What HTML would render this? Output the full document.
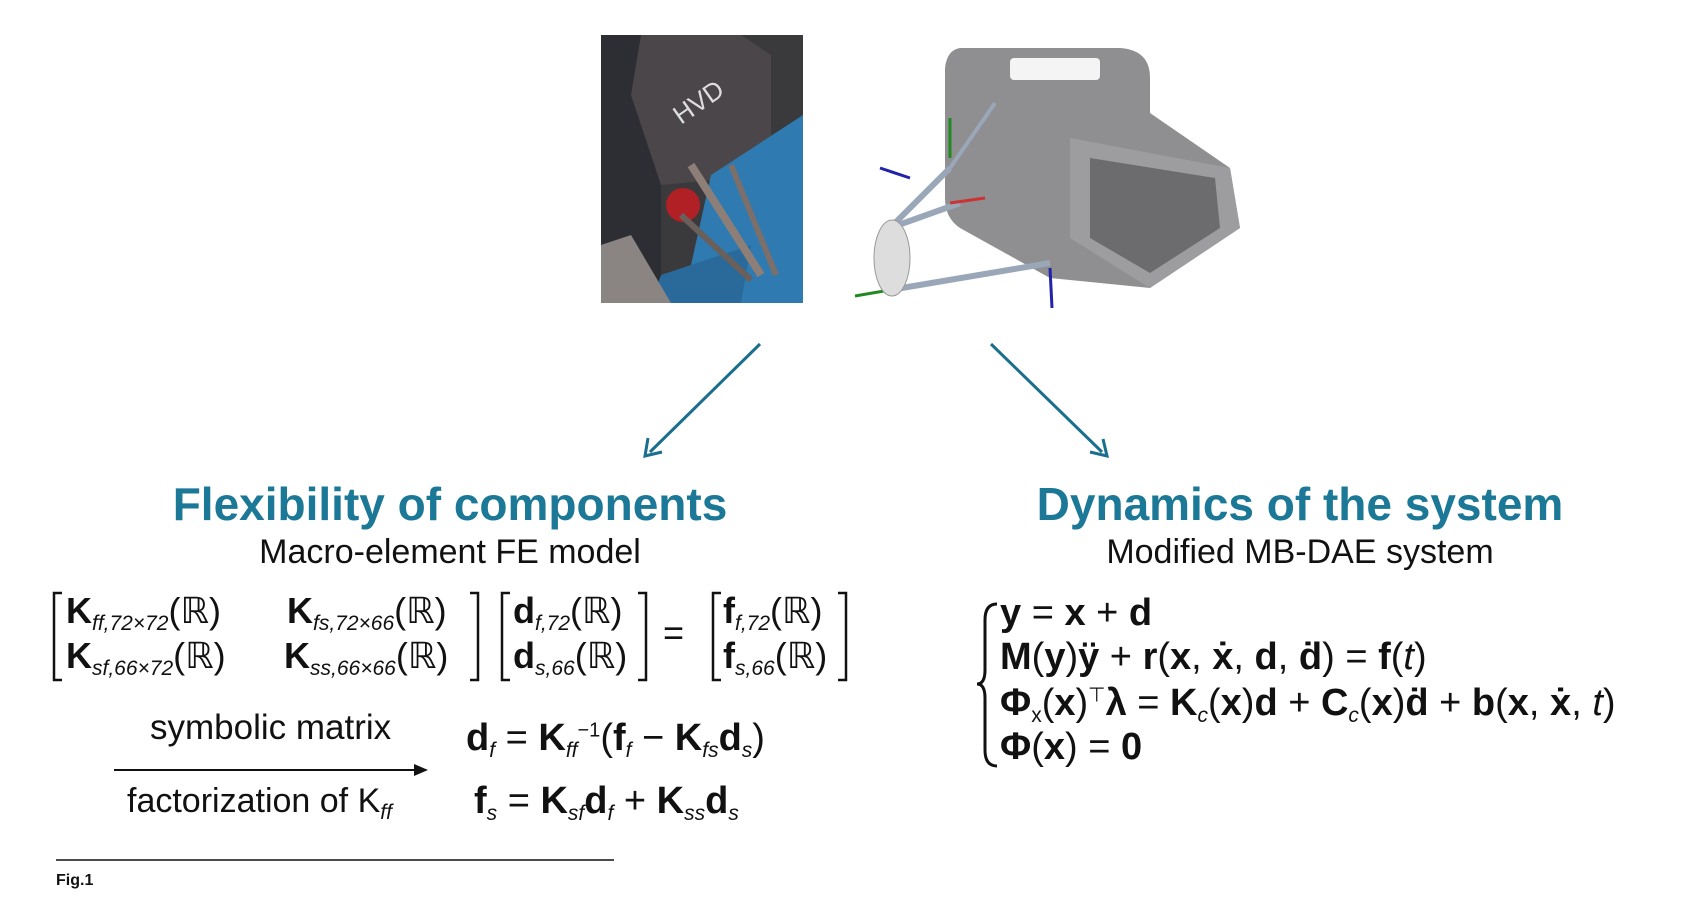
<!DOCTYPE html>
<html><head><meta charset="utf-8"><style>
body{margin:0;width:1700px;height:900px;background:#fff;position:relative;overflow:hidden;font-family:"Liberation Sans","DejaVu Sans",sans-serif;color:#111}
.a{position:absolute;white-space:nowrap}
.t{font-weight:bold;color:#1b7896;font-size:46px;text-align:center}
.s{font-size:34px;text-align:center}
.m{font-size:36px}
.m b{font-weight:bold}
sub{font-size:21px;font-style:italic;vertical-align:-7px}
.q{font-size:38px}
.q b{font-weight:bold}
</style></head><body>
<!-- photo -->
<svg class="a" style="left:601px;top:35px" width="202" height="268">
<rect width="202" height="268" fill="#3a3a3c"/>
<rect x="0" y="0" width="60" height="268" fill="#2c2e33"/>
<polygon points="40,0 140,0 170,20 170,140 60,150 30,60" fill="#4a4649"/>
<polygon points="110,140 202,80 202,268 120,268 90,230" fill="#2f7ab0"/>
<polygon points="60,240 150,210 140,268 50,268" fill="#2a6a9a"/>
<polygon points="0,210 30,200 70,268 0,268" fill="#8a8582"/>
<circle cx="82" cy="170" r="17" fill="#b02025"/>
<line x1="90" y1="130" x2="160" y2="240" stroke="#8d7f78" stroke-width="8"/>
<line x1="130" y1="130" x2="175" y2="240" stroke="#7a6f6a" stroke-width="6"/>
<line x1="80" y1="180" x2="150" y2="245" stroke="#6a5f5a" stroke-width="6"/>
<text x="80" y="90" fill="#ddd" font-size="26" transform="rotate(-35 80 90)">HVD</text>
</svg>
<!-- CAD -->
<svg class="a" style="left:850px;top:28px" width="400" height="290" overflow="visible">
<path d="M110,20 L270,20 Q300,22 300,50 L300,85 L380,140 L390,200 L300,260 L200,250 L110,200 Q95,190 95,170 L95,40 Q97,22 110,20Z" fill="#8f8f91"/>
<path d="M220,110 L380,140 L390,200 L300,260 L220,210Z" fill="#9d9d9f"/>
<path d="M240,130 L365,150 L370,200 L300,245 L240,210Z" fill="#6c6c6e"/>
<rect x="160" y="30" width="90" height="22" rx="4" fill="#f4f4f4"/>
<g stroke-width="3">
<line x1="40" y1="262" x2="200" y2="235" stroke="#9aa7b8" stroke-width="6"/>
<line x1="40" y1="200" x2="110" y2="175" stroke="#9aa7b8" stroke-width="6"/>
<line x1="40" y1="200" x2="100" y2="140" stroke="#9aa7b8" stroke-width="6"/>
<line x1="100" y1="140" x2="145" y2="75" stroke="#9aa7b8" stroke-width="4"/>
<line x1="100" y1="175" x2="135" y2="170" stroke="#c33"/>
<line x1="60" y1="150" x2="30" y2="140" stroke="#22a"/>
<line x1="200" y1="240" x2="202" y2="280" stroke="#22a"/>
<line x1="100" y1="130" x2="100" y2="90" stroke="#282"/>
<line x1="40" y1="262" x2="5" y2="268" stroke="#282"/>
</g>
<ellipse cx="42" cy="230" rx="18" ry="38" fill="#ddd" stroke="#999"/>
</svg>
<!-- arrows -->
<svg class="a" style="left:0;top:0" width="1700" height="900">
<g stroke="#1a6e8e" stroke-width="3" fill="none">
<line x1="760" y1="344" x2="650" y2="452"/><polyline points="648,438 645,456 662,452"/>
<line x1="991" y1="344" x2="1102" y2="452"/><polyline points="1090,452 1107,456 1103,439"/>
</g>
<line x1="114" y1="770" x2="420" y2="770" stroke="#111" stroke-width="2"/>
<polygon points="428,770 414,764 414,776" fill="#111"/>
<line x1="56" y1="860" x2="614" y2="860" stroke="#111" stroke-width="1.5"/>
</svg>
<div class="a t" style="left:150px;top:477px;width:600px">Flexibility of components</div>
<div class="a s" style="left:150px;top:533px;width:600px">Macro-element FE model</div>
<div class="a t" style="left:1000px;top:477px;width:600px">Dynamics of the system</div>
<div class="a s" style="left:1000px;top:533px;width:600px">Modified MB-DAE system</div>
<!-- matrix -->
<svg class="a" style="left:0;top:0" width="1700" height="900" fill="none" stroke="#111" stroke-width="2.5">
<polyline points="62,593 54,593 54,680 62,680"/><polyline points="470,593 478,593 478,680 470,680"/>
<polyline points="510,593 502,593 502,680 510,680"/><polyline points="638,593 646,593 646,680 638,680"/>
<polyline points="721,593 713,593 713,680 721,680"/><polyline points="838,593 846,593 846,680 838,680"/>
</svg>
<div class="a m" style="left:66px;top:590px"><b>K</b><sub>ff,72×72</sub>(ℝ)</div>
<div class="a m" style="left:287px;top:590px"><b>K</b><sub>fs,72×66</sub>(ℝ)</div>
<div class="a m" style="left:66px;top:635px"><b>K</b><sub>sf,66×72</sub>(ℝ)</div>
<div class="a m" style="left:284px;top:635px"><b>K</b><sub>ss,66×66</sub>(ℝ)</div>
<div class="a m" style="left:513px;top:590px"><b>d</b><sub>f,72</sub>(ℝ)</div>
<div class="a m" style="left:513px;top:635px"><b>d</b><sub>s,66</sub>(ℝ)</div>
<div class="a m" style="left:663px;top:612px">=</div>
<div class="a m" style="left:723px;top:590px"><b>f</b><sub>f,72</sub>(ℝ)</div>
<div class="a m" style="left:723px;top:635px"><b>f</b><sub>s,66</sub>(ℝ)</div>
<div class="a s" style="left:150px;top:708px;font-size:35px">symbolic matrix</div>
<div class="a s" style="left:127px;top:782px;font-size:34px">factorization of K<sub>ff</sub></div>
<div class="a m" style="left:466px;top:717px;font-size:38px"><b>d</b><sub>f</sub> = <b>K</b><sub>ff</sub><sup style="font-size:20px">−1</sup>(<b>f</b><sub>f</sub> − <b>K</b><sub>fs</sub><b>d</b><sub>s</sub>)</div>
<div class="a m" style="left:474px;top:780px;font-size:38px"><b>f</b><sub>s</sub> = <b>K</b><sub>sf</sub><b>d</b><sub>f</sub> + <b>K</b><sub>ss</sub><b>d</b><sub>s</sub></div>
<!-- system -->
<svg class="a" style="left:975px;top:600px" width="30" height="170" fill="none" stroke="#111" stroke-width="3">
<path d="M22,4 Q10,4 10,20 L10,70 Q10,84 2,84 Q10,84 10,98 L10,150 Q10,166 22,166"/>
</svg>
<div class="a q" style="left:1000px;top:592px"><b>y</b> = <b>x</b> + <b>d</b></div>
<div class="a q" style="left:1000px;top:636px"><b>M</b>(<b>y</b>)<b>ÿ</b> + <b>r</b>(<b>x</b>, <b>ẋ</b>, <b>d</b>, <b>ḋ</b>) = <b>f</b>(<i>t</i>)</div>
<div class="a q" style="left:1000px;top:682px"><b>Φ</b><sub style="font-style:normal">x</sub>(<b>x</b>)<sup style="font-size:20px">⊤</sup><b>λ</b> = <b>K</b><sub>c</sub>(<b>x</b>)<b>d</b> + <b>C</b><sub>c</sub>(<b>x</b>)<b>ḋ</b> + <b>b</b>(<b>x</b>, <b>ẋ</b>, <i>t</i>)</div>
<div class="a q" style="left:1000px;top:726px"><b>Φ</b>(<b>x</b>) = <b>0</b></div>
<div class="a" style="left:56px;top:872px;font-size:16px;font-weight:bold">Fig.1</div>
</body></html>
